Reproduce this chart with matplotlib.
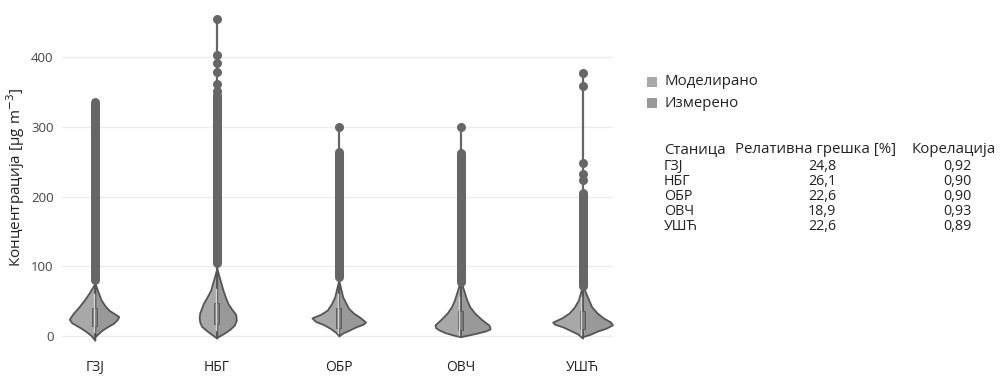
import numpy as np
import matplotlib.pyplot as plt

plt.rcParams['font.family'] = ['Open Sans', 'DejaVu Sans']

# stations and stats table
stations = ["ГЗЈ", "НБГ", "ОБР", "ОВЧ", "УШЋ"]
rel_error = ["24,8", "26,1", "22,6", "18,9", "22,6"]
correlation = ["0,92", "0,90", "0,90", "0,93", "0,89"]

# violin half profiles: (concentration, half width in category units)
modeled_y = [
    [-6, 1.4, 8, 13, 19, 24, 32, 42, 52, 61, 75.5],
    [-3, 2, 8.6, 14, 20, 27, 33, 40, 47, 56, 66, 97],
    [1, 6, 11, 16, 21, 26, 31, 37, 46, 56, 80],
    [-1, 1.4, 5, 9, 12, 16, 24, 33, 42, 52, 80],
    [-3, 3, 8, 13, 17, 20, 26, 33, 42, 52, 73],
]
modeled_w = [
    [0, 0.035, 0.085, 0.13, 0.19, 0.21, 0.18, 0.13, 0.085, 0.05, 0],
    [0, 0.04, 0.09, 0.125, 0.14, 0.145, 0.14, 0.125, 0.11, 0.08, 0.05, 0],
    [0, 0.03, 0.07, 0.12, 0.19, 0.22, 0.15, 0.095, 0.06, 0.033, 0],
    [0, 0.06, 0.13, 0.18, 0.205, 0.21, 0.16, 0.11, 0.075, 0.05, 0],
    [0, 0.04, 0.1, 0.16, 0.23, 0.245, 0.17, 0.11, 0.065, 0.033, 0],
]
measured_y = [
    [-1, 4, 8.6, 14, 18.6, 24, 28, 32, 37, 44, 52, 75.5],
    [-2, 4, 10, 16, 23, 31, 39, 47, 56, 66, 97],
    [0, 4, 8, 13, 17, 20, 26, 33, 40, 56, 80],
    [-1, 4, 7, 10, 13, 16, 24, 33, 42, 52, 80],
    [-1, 3, 7, 11, 16, 20, 26, 33, 42, 52, 73],
]
measured_w = [
    [0, 0.03, 0.06, 0.11, 0.155, 0.185, 0.195, 0.16, 0.115, 0.08, 0.05, 0],
    [0, 0.06, 0.11, 0.145, 0.16, 0.155, 0.12, 0.09, 0.07, 0.05, 0],
    [0, 0.03, 0.08, 0.14, 0.2, 0.22, 0.18, 0.12, 0.08, 0.033, 0],
    [0, 0.13, 0.2, 0.24, 0.24, 0.23, 0.17, 0.115, 0.075, 0.05, 0],
    [0, 0.07, 0.12, 0.19, 0.245, 0.23, 0.17, 0.12, 0.075, 0.05, 0],
]

# inner box: q1, median, q3
q1 = [14, 17, 12, 9, 10]
median = [24, 30, 22, 19, 20]
q3 = [40, 48, 40, 36, 36]

# outliers: dense run of points and separate points
dense_lo = [80, 104, 85, 78, 72]
dense_hi = [335, 345, 264, 262, 205]
sparse_points = [
    [300, 310, 320, 330],
    [352, 362, 378, 392, 403, 454],
    [300],
    [215, 230, 245, 300],
    [224, 233, 248, 358, 377],
]
max_value = [335, 454, 300, 300, 377]

light = "#a8a8a8"
dark = "#999999"
edge = "#555555"
dot = "#666666"

fig = plt.figure(figsize=(10, 3.76), dpi=100)
ax = fig.add_axes([0.062, 0.0785, 0.551, 0.8997])

for i in range(len(stations)):
    # thin tail up to the max value
    ax.plot([i, i], [measured_y[i][-1], max_value[i]], color=dot, lw=1.6, zorder=2)
    my = np.array(modeled_y[i])
    mw = np.array(modeled_w[i])
    ax.fill_betweenx(my, i - mw, i, facecolor=light, edgecolor=edge, lw=1.3, zorder=3)
    ey = np.array(measured_y[i])
    ew = np.array(measured_w[i])
    ax.fill_betweenx(ey, i, i + ew, facecolor=dark, edgecolor=edge, lw=1.3, zorder=3)
    # inner boxes
    ax.plot([i, i], [modeled_y[i][0], measured_y[i][-1]], color=edge, lw=1.2, zorder=4)
    ax.add_patch(plt.Rectangle((i - 0.02, q1[i]), 0.04, q3[i] - q1[i],
                               facecolor="#7a7a7a", edgecolor=edge, lw=0.6, zorder=5))
    ax.plot([i - 0.01, i - 0.01], [q1[i] - 8, q3[i] + 20], color="#d4d4d4", lw=1.0, zorder=6)
    # outlier points
    ax.plot([i, i], [dense_lo[i], dense_hi[i]], color=dot, lw=6.5,
            solid_capstyle="round", zorder=7)
    ax.plot([i] * len(sparse_points[i]), sparse_points[i], "o", color=dot,
            markersize=6.5, markeredgewidth=0, zorder=7)

ax.set_xlim(-0.27, 4.25)
ax.set_ylim(-15, 470)
ax.set_yticks([0, 100, 200, 300, 400])
ax.set_xticks(range(len(stations)))
ax.set_xticklabels(stations, fontsize=10, color="#222222")
ax.tick_params(axis="y", length=0, pad=6, labelsize=9.5, labelcolor="#444444")
ax.tick_params(axis="x", length=0, pad=10)
ax.yaxis.grid(True, color="#ececec", lw=1.0)
ax.set_axisbelow(True)
for s in ax.spines.values():
    s.set_visible(False)
ax.set_ylabel("Концентрација [μg m$^{-3}$]", fontsize=11, color="#222222", labelpad=3)

# legend
fig.patches.append(plt.Rectangle((0.647, 0.769), 0.01, 0.027, facecolor=light,
                                 transform=fig.transFigure, figure=fig))
fig.patches.append(plt.Rectangle((0.647, 0.713), 0.01, 0.027, facecolor=dark,
                                 transform=fig.transFigure, figure=fig))
fig.text(0.665, 0.782, "Моделирано", fontsize=10.8, va="center", color="#222222")
fig.text(0.665, 0.726, "Измерено", fontsize=10.8, va="center", color="#222222")

# table
row_y = [0.557, 0.517, 0.477, 0.437, 0.397]
fig.text(0.664, 0.603, "Станица", fontsize=10.8, va="center", color="#222222")
fig.text(0.8155, 0.603, "Релативна грешка [%]", fontsize=10.8, va="center", ha="center", color="#222222")
fig.text(0.9535, 0.603, "Корелација", fontsize=10.8, va="center", ha="center", color="#222222")
for k in range(len(stations)):
    fig.text(0.664, row_y[k], stations[k], fontsize=10.3, va="center", color="#222222")
    fig.text(0.822, row_y[k], rel_error[k], fontsize=10.3, va="center", ha="center", color="#222222")
    fig.text(0.957, row_y[k], correlation[k], fontsize=10.3, va="center", ha="center", color="#222222")

fig.savefig("out.png", dpi=100)
